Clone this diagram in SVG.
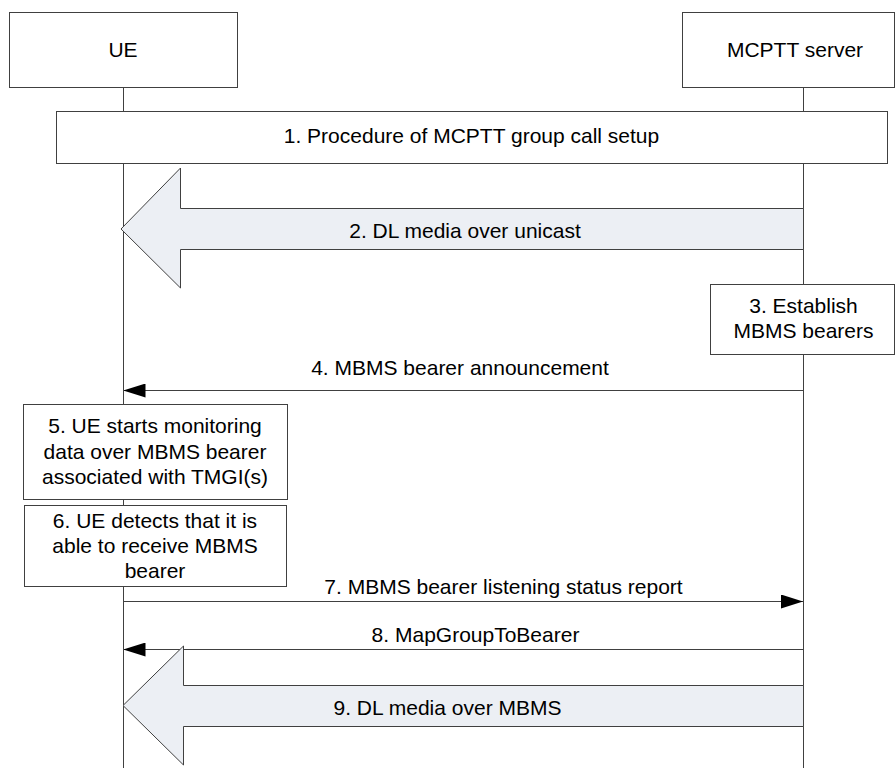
<svg xmlns="http://www.w3.org/2000/svg" width="895" height="768" viewBox="0 0 895 768">
<defs>
<style>
.box{fill:#fff;stroke:#404040;stroke-width:1}
.life{stroke:#404040;stroke-width:1;fill:none}
.msg{stroke:#404040;stroke-width:1;fill:none}
.big{fill:#ECEFF4;stroke:#404040;stroke-width:1}
text{font-family:"Liberation Sans",Arial,sans-serif;font-size:21px;fill:#000;text-anchor:middle}
</style>
<marker id="ah" markerUnits="userSpaceOnUse" markerWidth="22" markerHeight="14" refX="22" refY="7" orient="auto">
<path d="M0,0 L22,7 L0,14 z" fill="#000"/>
</marker>
</defs>
<rect width="895" height="768" fill="#fff"/>
<g id="lifelines">
<line class="life" x1="123.5" y1="87" x2="123.5" y2="768"/>
<line class="life" x1="803.5" y1="87" x2="803.5" y2="768"/>
</g>
<g id="ue"><rect class="box" x="9.5" y="12.5" width="228" height="75"/><text x="123" y="57">UE</text></g>
<g id="mcptt"><rect class="box" x="682.5" y="12.5" width="212" height="75"/><text x="795" y="57">MCPTT server</text></g>
<g id="step1"><rect class="box" x="56.5" y="111.5" width="831" height="52"/><text x="471.5" y="143">1. Procedure of MCPTT group call setup</text></g>
<g id="step3"><rect class="box" x="710.5" y="284.5" width="184" height="70"/><text x="803.5" y="313">3. Establish</text><text x="803.5" y="338">MBMS bearers</text></g>
<g id="step5"><rect class="box" x="23.5" y="404.5" width="264" height="95"/><text x="155" y="433">5. UE starts monitoring</text><text x="155" y="458.5">data over MBMS bearer</text><text x="155" y="484">associated with TMGI(s)</text></g>
<g id="step6"><rect class="box" x="24.5" y="505.5" width="262" height="81"/><text x="155" y="528">6. UE detects that it is</text><text x="155" y="553">able to receive MBMS</text><text x="155" y="578">bearer</text></g>
<g id="connectors">
<polygon class="big" points="803.5,208.5 180.5,208.5 180.5,168 121,229 180.5,288 180.5,249.5 803.5,249.5"/>
<text x="465" y="238">2. DL media over unicast</text>
<line class="msg" x1="803.5" y1="390.5" x2="123.5" y2="390.5" marker-end="url(#ah)"/>
<text x="460" y="375">4. MBMS bearer announcement</text>
<line class="msg" x1="123.5" y1="601.5" x2="803" y2="601.5" marker-end="url(#ah)"/>
<text x="503.5" y="594">7. MBMS bearer listening status report</text>
<line class="msg" x1="803.5" y1="649.5" x2="123.5" y2="649.5" marker-end="url(#ah)"/>
<text x="475.5" y="642">8. MapGroupToBearer</text>
<polygon class="big" points="803.5,685.5 183.5,685.5 183.5,646 123,705.5 183.5,765 183.5,726.5 803.5,726.5"/>
<text x="447.5" y="715">9. DL media over MBMS</text>
</g>
</svg>
